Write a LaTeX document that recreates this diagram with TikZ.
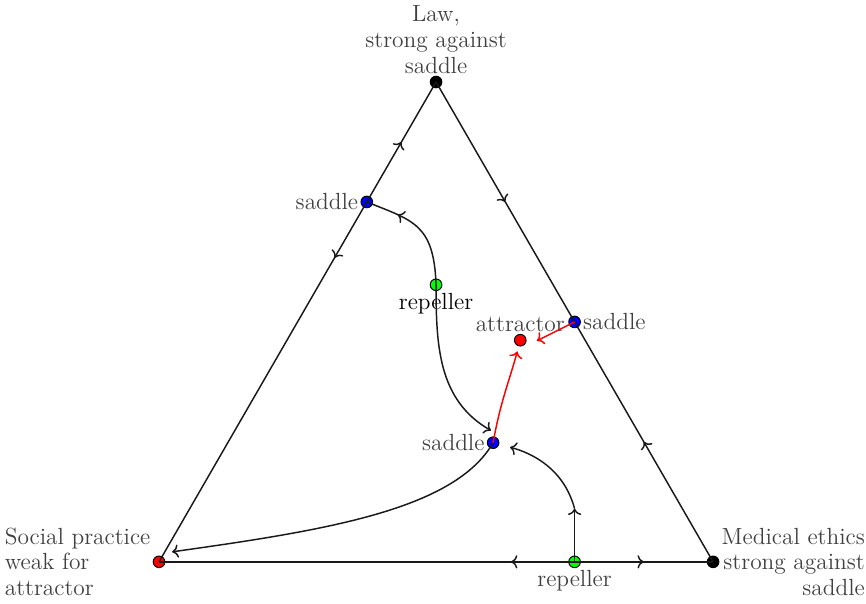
\documentclass[tikz,border=0pt]{standalone}
\usetikzlibrary{arrows.meta,decorations.markings,calc}

\begin{document}
\begin{tikzpicture}[x=1cm,y=1cm,
    every node/.style={font=\fontsize{12}{13.2}\selectfont, text=black!75},
    every label/.style={inner sep=1pt},
    fixpt/.style={circle, draw=black, line width=0.5pt, fill=#1,
                  inner sep=0pt, minimum size=2.1mm},
    rim/.style={line width=0.75pt, black!90},
    flow/.style={line width=0.75pt, black!90, ->},
    redflow/.style={line width=0.75pt, red, ->},
    midarrow/.style={postaction={decorate}, decoration={markings,
        mark=at position #1 with {\arrow{>}}}}]
  % canvas 866x604 px, triangle side 10 cm = 554 px
  \useasboundingbox (-2.87,-0.76) rectangle (12.76,10.14);

  % ── corners ──
  \node[fixpt=red, label={[align=left]left:{Social practice\\weak for\\attractor}}] (sp) at (0,0) {};
  \node[fixpt=black, label={[align=right]right:{Medical ethics\\strong against\\saddle}}] (me) at (10,0) {};
  \node[fixpt=black, label={[align=center]above:{Law,\\strong against\\saddle}}] (law) at (5,8.66) {};

  % ── fixed points ──
  \node[fixpt=blue, label=left:saddle] (sl) at ($(sp)!0.75!(law)$) {};
  \node[fixpt=blue, label=right:saddle] (sr) at ($(me)!0.5!(law)$) {};
  \node[fixpt=blue, label=left:saddle] (s3) at (6.03,2.15) {};
  \node[fixpt=green, label={[text=black]below:repeller}] (r1) at (5,5) {};
  \node[fixpt=green, label=below:repeller] (rb) at (7.5,0) {};
  \node[fixpt=red, label=above:attractor] (att) at (6.52,4.0) {};

  % free ends of the flow lines
  \coordinate (up) at (7.5,0.96);
  \coordinate (s3in) at (5.99,2.37);
  \coordinate (spin) at (0.235,0.18);
  \coordinate (attin) at (6.82,3.99);

  % ── flow along the rim ──
  \foreach \a/\b/\p in {sl/law/0.5, sl/sp/0.155, law/sr/0.5, me/sr/0.5, rb/sp/0.153, rb/me/0.5}
    \draw[rim, midarrow=\p] (\a.center) -- (\b.center);

  % ── flow inside ──
  \draw[rim, midarrow=0.72] (r1.center) .. controls +(92:1.1) and +(-22:0.9) .. (sl.center);
  \draw[flow] (r1.center) to[out=-90, in=150] (s3in);
  \draw[flow] (s3.center) .. controls +(-120:1.4) and +(8:2.8) .. (spin);
  \draw[flow] (rb.center) -- (up);
  \draw[flow, shorten >=9pt] (up) to[out=105, in=-15] (s3.center);

  % ── towards the attractor ──
  \draw[redflow, shorten >=6pt] (s3.center) to[out=80, in=-105] (att.center);
  \draw[redflow] (sr.center) -- (attin);
\end{tikzpicture}
\end{document}
